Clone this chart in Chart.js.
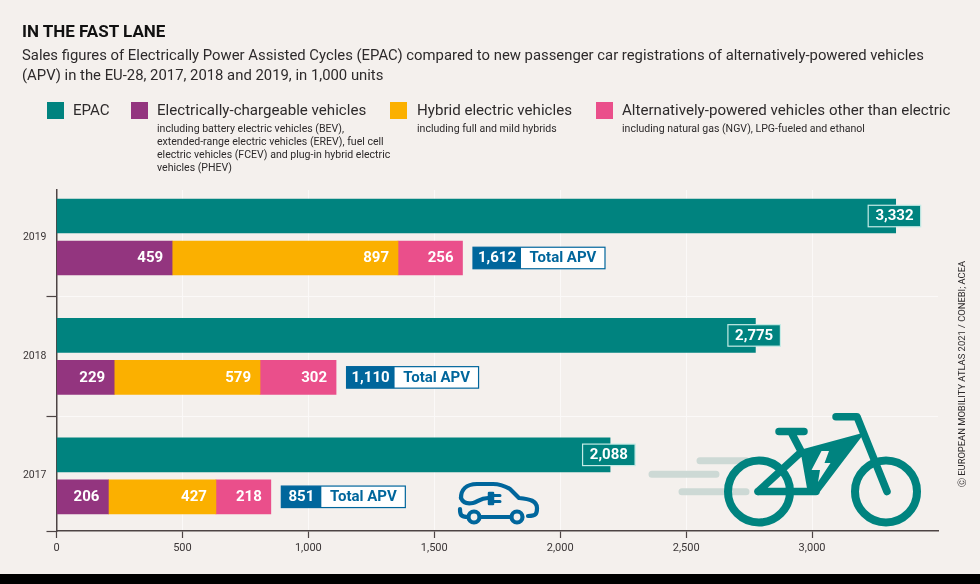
<!DOCTYPE html>
<html lang="en"><head><meta charset="utf-8">
<script src="https://cdn.jsdelivr.net/npm/chart.js@4"></script>
<style>
html,body{margin:0;padding:0;background:#f4f0ed}
#wrap{position:relative;width:980px;height:584px;overflow:hidden;background:#f4f0ed;font-family:Roboto,sans-serif;color:#2d2a2b}
canvas{position:absolute;left:0;top:0}
.abs{position:absolute;white-space:nowrap}
#title{left:22px;top:21px;font-weight:700;font-size:17px;line-height:21px;color:#111}
#sub{left:22px;top:45px;font-size:14.85px;line-height:20px;color:#2d2a2b}
.sw{position:absolute;top:102px;width:17px;height:17px}
.lg{position:absolute;top:100px;font-size:15.1px;line-height:20px;white-space:nowrap;color:#2d2a2b}
.lgs{position:absolute;top:122px;font-size:10.55px;line-height:13px;white-space:nowrap;color:#2d2a2b}
#src{left:962px;top:374px;font-size:9.4px;transform:translate(-50%,-50%) rotate(-90deg);color:#2d2a2b}
#band{position:absolute;left:0;top:574px;width:980px;height:10px;background:#000}
svg{position:absolute;left:0;top:0}
</style></head><body>
<div id="wrap">
<canvas id="c" width="980" height="584"></canvas>
<div id="title" class="abs"></div>
<div id="sub" class="abs"></div>
<div id="legend"></div>
<div id="src" class="abs"></div>
<svg width="980" height="584" viewBox="0 0 980 584" fill="none">
  <g stroke="#cdd9d5" stroke-width="7" stroke-linecap="round">
    <path d="M700 460.7H746M652 474.3H716M682 491.7H746"/>
  </g>
  <g stroke="#00837f" stroke-linecap="round" stroke-linejoin="round">
    <circle cx="759" cy="491.5" r="31" stroke-width="8"/>
    <circle cx="886" cy="491.5" r="31" stroke-width="8"/>
    <path stroke-width="7.5" d="M836 416.7H857L887 491.5M779 431.5H804M791 432L802 453M758 491.5L800 453M758 491.5H816"/>
    <path fill="#00837f" stroke-width="3" d="M802 451L861 435L817 493L809 491Z"/>
  </g>
  <path fill="#f4f0ed" d="M821.5 451H829L824.5 463H830.5L818 482L820 470H811.5Z"/>
  <g stroke="#00669c" stroke-width="4.2" stroke-linecap="round" stroke-linejoin="round">
    <path d="M461 498C461 490 466 484 477 484H493C501 484 505 486 510 489L519 498C530 499 537 501 537 508C537 514 536 516 528 516"/>
    <circle cx="474" cy="517" r="5.5"/><circle cx="517" cy="517" r="5.5"/>
    <path d="M480 517H511M460 509C460 515 461 517 468 517M461 498C463 503 468 504 473 503C478 502 480 498 488 498"/>
    <path d="M494 495.5H500M494 501.5H500" stroke-width="3"/>
    <path fill="#00669c" d="M489 493H493V504H489Z" stroke-width="2.5"/>
  </g>
</svg>
<div id="band"></div>
</div>
<script>
const categories = ['2019', '2018', '2017'];
const epacBars = [3332, 2775, 2198];
const epacLabels = [3332, 2775, 2088];
const electric = [459, 229, 206];
const hybrid = [897, 579, 427];
const otherApv = [256, 302, 218];
const totalApv = [1612, 1110, 851];
const xTicks = [0, 500, 1000, 1500, 2000, 2500, 3000];
const seriesNames = ['EPAC', 'Electrically-chargeable vehicles', 'Hybrid electric vehicles', 'Alternatively-powered vehicles other than electric'];
const seriesNotes = ['', 'including battery electric vehicles (BEV),\nextended-range electric vehicles (EREV), fuel cell\nelectric vehicles (FCEV) and plug-in hybrid electric\nvehicles (PHEV)', 'including full and mild hybrids', 'including natural gas (NGV), LPG-fueled and ethanol'];
const titleText = 'IN THE FAST LANE';
const subtitleLines = ['Sales figures of Electrically Power Assisted Cycles (EPAC) compared to new passenger car registrations of alternatively-powered vehicles', '(APV) in the EU-28, 2017, 2018 and 2019, in 1,000 units'];
const sourceText = 'Ⓒ EUROPEAN MOBILITY ATLAS 2021 / CONEBI; ACEA';
const totalWord = 'Total APV';

const TEAL = '#00837f', PURPLE = '#93357f', AMBER = '#fbb000', PINK = '#ea4f8b', BLUE = '#00669c', DARK = '#4d4444';
const swatchColors = [TEAL, PURPLE, AMBER, PINK];
const swatchX = [46.5, 130.5, 390, 595.5];
const textX = [73, 157, 417, 622];

document.getElementById('title').textContent = titleText;
document.getElementById('sub').innerHTML = subtitleLines.join('<br>');
document.getElementById('src').textContent = sourceText;
const lg = document.getElementById('legend');
seriesNames.forEach((n, i) => {
  const s = document.createElement('div'); s.className = 'sw'; s.style.left = swatchX[i] + 'px'; s.style.background = swatchColors[i]; lg.appendChild(s);
  const t = document.createElement('div'); t.className = 'lg'; t.style.left = textX[i] + 'px'; t.textContent = n; lg.appendChild(t);
  if (seriesNotes[i]) {
    const m = document.createElement('div'); m.className = 'lgs'; m.style.left = textX[i] + 'px'; m.innerHTML = seriesNotes[i].split('\n').join('<br>'); lg.appendChild(m);
  }
});

const toPts = arr => arr.map((v, i) => ({x: v, y: i}));
const fmt = v => v.toLocaleString('en-US');

const labelPlugin = {
  id: 'barLabels',
  afterDatasetsDraw(chart) {
    const {ctx, scales: {x}} = chart;
    ctx.save();
    ctx.textBaseline = 'middle';
    ctx.font = '700 15px Roboto, sans-serif';
    [1, 2, 3].forEach(d => {
      chart.getDatasetMeta(d).data.forEach((bar, i) => {
        ctx.fillStyle = '#fff'; ctx.textAlign = 'right';
        ctx.fillText(fmt(chart.data.datasets[d].data[i].x), bar.x - 9, bar.y + 0.5);
      });
    });
    chart.getDatasetMeta(0).data.forEach((bar, i) => {
      const l = bar.x - 27.5, w = 52.5, h = 21.5, t = bar.y - h / 2;
      ctx.fillStyle = TEAL; ctx.strokeStyle = '#c4ebe6'; ctx.lineWidth = 1.2;
      ctx.fillRect(l, t, w, h); ctx.strokeRect(l, t, w, h);
      ctx.fillStyle = '#fff'; ctx.textAlign = 'center';
      ctx.fillText(fmt(epacLabels[i]), l + w / 2, bar.y + 0.5);
    });
    chart.getDatasetMeta(3).data.forEach((bar, i) => {
      const digits = fmt(totalApv[i]);
      const l = x.getPixelForValue(totalApv[i]) + 10.5;
      const nw = digits.length > 3 ? 48 : 40;
      const w = nw + 84, h = 21.5, t = bar.y - h / 2;
      ctx.fillStyle = '#fff'; ctx.fillRect(l, t, w, h);
      ctx.strokeStyle = BLUE; ctx.lineWidth = 1.2; ctx.strokeRect(l, t, w, h);
      ctx.fillStyle = BLUE; ctx.fillRect(l, t, nw, h);
      ctx.fillStyle = '#fff'; ctx.textAlign = 'center';
      ctx.fillText(digits, l + nw / 2, bar.y + 0.5);
      ctx.fillStyle = BLUE;
      ctx.fillText(totalWord, l + nw + 42, bar.y + 0.5);
    });
    ctx.restore();
  }
};

new Chart(document.getElementById('c'), {
  type: 'bar',
  data: {
    datasets: [
      {label: seriesNames[0], data: toPts(epacBars), backgroundColor: TEAL, stack: 'epac'},
      {label: seriesNames[1], data: toPts(electric), backgroundColor: PURPLE, stack: 'apv'},
      {label: seriesNames[2], data: toPts(hybrid), backgroundColor: AMBER, stack: 'apv'},
      {label: seriesNames[3], data: toPts(otherApv), backgroundColor: PINK, stack: 'apv'}
    ]
  },
  options: {
    indexAxis: 'y',
    responsive: false,
    animation: false,
    barThickness: 'flex',
    categoryPercentage: 0.703,
    barPercentage: 0.81,
    layout: {padding: {top: 190, left: 0, right: 42, bottom: 13}},
    plugins: {legend: {display: false}, tooltip: {enabled: false}, title: {display: false}},
    scales: {
      x: {
        type: 'linear', stacked: true, min: 0, max: 3500,
        afterFit: s => { s.height = 40; },
        afterBuildTicks: s => { s.ticks = xTicks.map(value => ({value})); },
        ticks: {color: '#3a3536', font: {family: 'Roboto, sans-serif', size: 11}, padding: 4, maxRotation: 0, autoSkip: false, callback: v => fmt(v)},
        border: {color: DARK, width: 1.5},
        grid: {color: '#fbf9f8', lineWidth: 1, tickColor: DARK, tickLength: 7, tickWidth: 1.2}
      },
      y: {
        type: 'linear', reverse: true, offset: false, min: -0.3936, max: 2.462,
        afterFit: s => { s.width = 56.5; },
        afterBuildTicks: s => { s.ticks = [0, 0.5, 1, 1.5, 2, 2.462].map(value => ({value})); },
        ticks: {color: '#3a3536', font: {family: 'Roboto, sans-serif', size: 10.5}, padding: 0, autoSkip: false,
          callback: v => Number.isInteger(v) ? categories[v] : ''},
        border: {color: DARK, width: 1.5},
        grid: {
          offset: false,
          color: c => (c.tick && c.tick.value % 1 === 0.5) ? '#fbf9f8' : 'transparent',
          tickColor: c => (c.tick && Number.isInteger(c.tick.value)) ? 'transparent' : DARK,
          tickLength: 10, tickWidth: 1.2, lineWidth: 1
        }
      }
    }
  },
  plugins: [labelPlugin]
});
</script>
</body></html>
